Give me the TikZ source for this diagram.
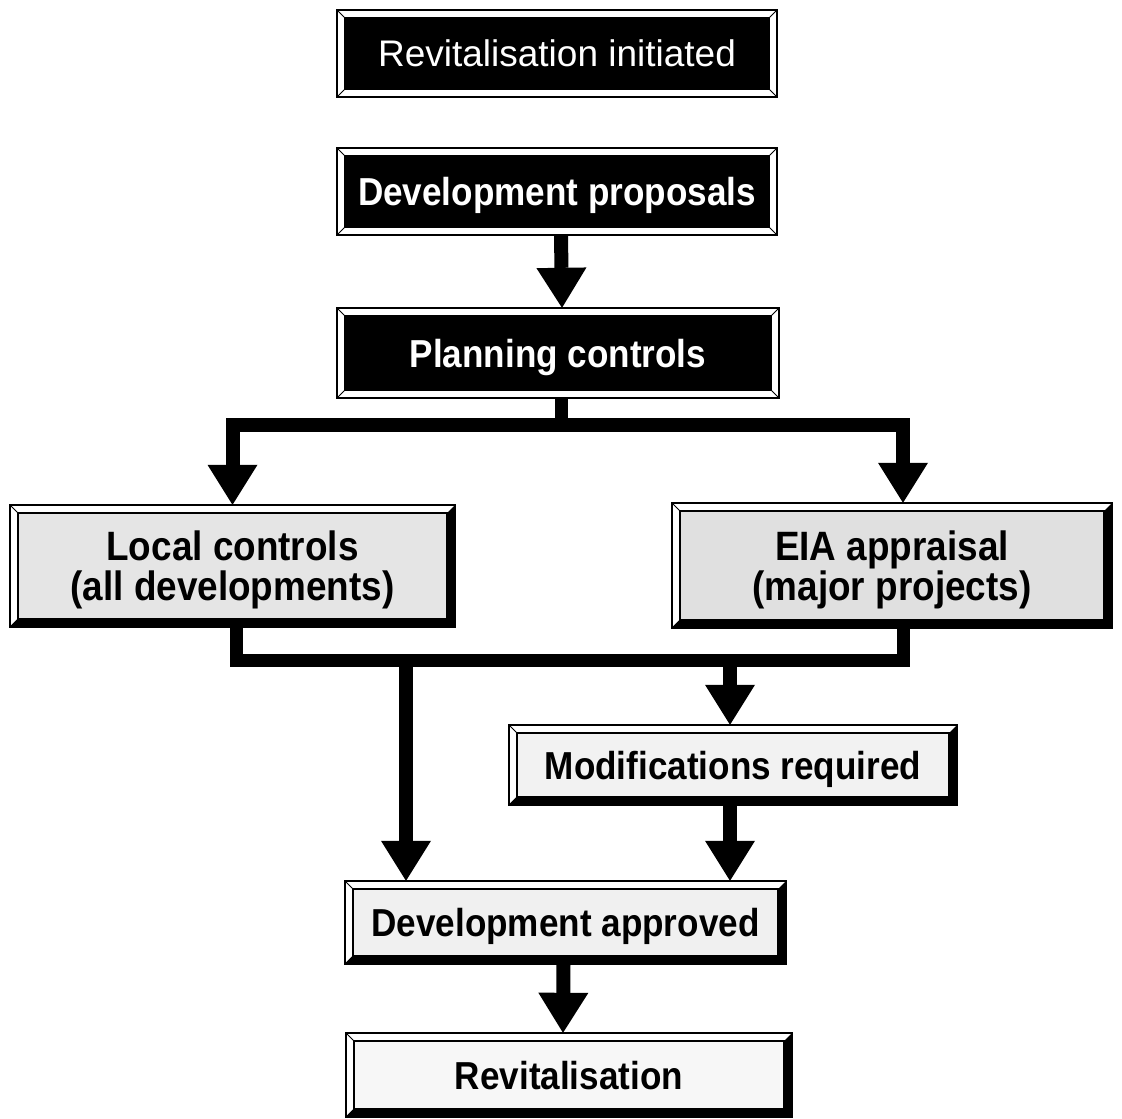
\documentclass[tikz,border=0pt]{standalone}
\usepackage{fontspec}
\setmainfont{Liberation Sans}
\newfontfamily\narrowsans[FakeStretch=0.9]{Liberation Sans}
\usetikzlibrary{arrows.meta,backgrounds}

% bevelled frame round a box node: white bevel, black face, white text
\newcommand\darkframe[1]{%
  \begin{scope}[on background layer]
    \fill[white] (#1.north west) rectangle (#1.south east);
    \fill[black] ([shift={(8,8)}]#1.north west) rectangle ([shift={(-8,-8)}]#1.south east);
    \draw[line width=1pt] ([shift={(8,8)}]#1.north west) rectangle ([shift={(-8,-8)}]#1.south east);
    \draw[line width=1pt]
      (#1.north west) -- ([shift={(8,8)}]#1.north west)
      (#1.north east) -- ([shift={(-8,8)}]#1.north east)
      (#1.south west) -- ([shift={(8,-8)}]#1.south west)
      (#1.south east) -- ([shift={(-8,-8)}]#1.south east);
    \draw[line width=2.5pt] (#1.north west) rectangle (#1.south east);
  \end{scope}}

% bevelled frame round a box node: light face, shadowed right and bottom bevel
\newcommand\lightframe[2]{%
  \begin{scope}[on background layer]
    \fill[white] (#1.north west) rectangle (#1.south east);
    \fill[#2] ([shift={(8,8)}]#1.north west) rectangle ([shift={(-8,-8)}]#1.south east);
    \fill[black] (#1.north east) -- (#1.south east) -- (#1.south west)
      -- ([shift={(8,-8)}]#1.south west) -- ([shift={(-8,-8)}]#1.south east)
      -- ([shift={(-8,8)}]#1.north east) -- cycle;
    \draw[line width=1.5pt] ([shift={(8,8)}]#1.north west) rectangle ([shift={(-8,-8)}]#1.south east);
    \draw[line width=1pt]
      (#1.north west) -- ([shift={(8,8)}]#1.north west)
      (#1.south west) -- ([shift={(8,-8)}]#1.south west);
    \draw[line width=1.5pt] (#1.north west) rectangle (#1.south east);
  \end{scope}}

\tikzset{
  boxnode/.style={inner sep=0pt, align=center, text depth=0pt},
  darktext/.style={boxnode, text=white},
  lighttext/.style={boxnode, text=black},
  boldface/.style={font=\narrowsans\fontsize{39}{42}\selectfont\bfseries},
  bigface/.style={font=\narrowsans\fontsize{41}{40}\selectfont\bfseries},
  plainface/.style={font=\fontsize{37}{40}\selectfont},
  flow/.style={line width=14pt, -{Triangle[width=50pt,length=40pt,line width=0pt]}},
  bus/.style={line width=13pt}
}

\begin{document}
\begin{tikzpicture}[x=1pt, y=-1pt]
\begin{scope}[on background layer]
  \fill[white] (0,0) rectangle (1122,1119);
\end{scope}
\useasboundingbox (0,0) rectangle (1122,1119);

% boxes
\node[darktext, plainface, minimum width=440pt, minimum height=87pt] (init) at (557,53.5) {Revitalisation initiated};
\node[darktext, boldface, minimum width=440pt, minimum height=87pt] (prop) at (557,191.5) {Development proposals};
\node[darktext, boldface, minimum width=442pt, minimum height=90pt] (plan) at (558,353) {Planning controls};
\node[lighttext, bigface, minimum width=445pt, minimum height=122pt] (local) at (232.5,566) {Local controls\\(all developments)};
\node[lighttext, bigface, minimum width=440pt, minimum height=125pt] (eia) at (892,565.5) {EIA appraisal\\(major projects)};
\node[lighttext, boldface, minimum width=448pt, minimum height=80pt] (mod) at (733,765) {Modifications required};
\node[lighttext, boldface, minimum width=441pt, minimum height=83pt] (appr) at (565.5,922.5) {Development approved};
\node[lighttext, boldface, minimum width=446pt, minimum height=84pt] (revit) at (569,1075) {Revitalisation};

\darkframe{init}
\darkframe{prop}
\darkframe{plan}
\lightframe{local}{black!10}
\lightframe{eia}{black!12}
\lightframe{mod}{black!5}
\lightframe{appr}{black!6}
\lightframe{revit}{black!3}

% branching points of the connectors
\coordinate (split) at (561,425);
\coordinate (joinL) at (236,660);
\coordinate (joinR) at (903,660);
\coordinate (toappr) at (406,660);
\coordinate (tomod) at (730,660);

% connectors
\draw[flow] ([xshift=4pt]prop.south) -- ([xshift=4pt]plan.north);
\draw[bus] ([xshift=3pt]plan.south) -- (split);
\draw[flow] (split) -| (local.north);
\draw[flow] (split) -| (joinR |- eia.north);
\draw[bus] (joinL |- local.south) -- (joinL) -- (joinR) -- (joinR |- eia.south);
\draw[flow] (toappr) -- (toappr |- appr.north);
\draw[flow] (tomod) -- (tomod |- mod.north);
\draw[flow] (tomod |- mod.south) -- (tomod |- appr.north);
\draw[flow] ([xshift=-2pt]appr.south) -- ([xshift=-6pt]revit.north);
\end{tikzpicture}
\end{document}
